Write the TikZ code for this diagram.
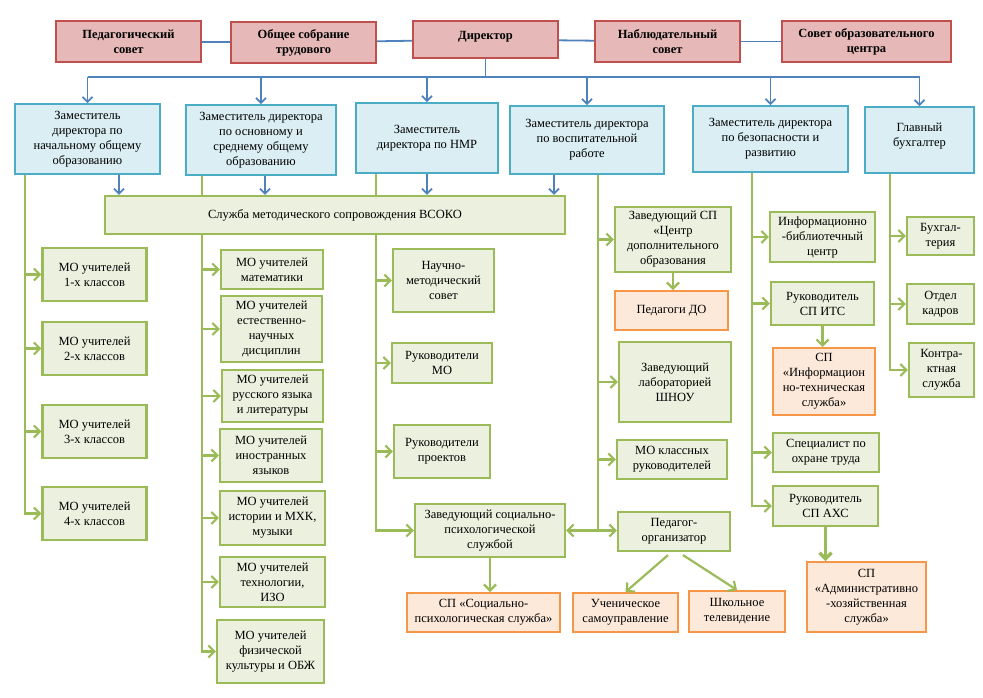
\documentclass[tikz,border=0pt]{standalone}
\usepackage{fontspec}
\setmainfont{Liberation Serif}
\usepackage{xcolor}
\usetikzlibrary{
    arrows.meta,
    backgrounds
}

\definecolor{councilfill}{HTML}{E6B9B8}
\definecolor{councildraw}{HTML}{C0504D}
\definecolor{deputyfill}{HTML}{DAEEF3}
\definecolor{deputydraw}{HTML}{4BACC6}
\definecolor{unitfill}{HTML}{EBF1DE}
\definecolor{unitdraw}{HTML}{9BBB59}
\definecolor{servfill}{HTML}{FDE9D9}
\definecolor{servdraw}{HTML}{F79646}
\definecolor{linkblue}{HTML}{4F81BD}

\begin{document}
\begin{tikzpicture}[
    x=1pt, y=-1pt,
    font=\fontsize{12.5}{15}\selectfont,
    box/.style={
        rectangle,
        align=center,
        inner sep=2pt,
        line width=2pt
    },
    council/.style={
        box,
        draw=councildraw,
        fill=councilfill,
        font=\fontsize{12.5}{15}\selectfont\bfseries
    },
    deputy/.style={
        box,
        draw=deputydraw,
        fill=deputyfill,
        line width=1.8pt
    },
    unit/.style={
        box,
        draw=unitdraw,
        fill=unitfill,
        line width=2.2pt
    },
    serv/.style={
        box,
        draw=servdraw,
        fill=servfill
    },
    sz/.style 2 args={
        minimum width=#1pt,
        minimum height=#2pt
    },
    blueline/.style={
        draw=linkblue,
        line width=1.8pt
    },
    bluearrow/.style={
        blueline,
        -{Straight Barb[length=5pt,width=10pt]}
    },
    greenline/.style={
        draw=unitdraw,
        line width=2.2pt
    },
    greenarrow/.style={
        greenline,
        -{Straight Barb[length=6pt,width=12pt]}
    },
    greenboth/.style={
        greenline,
        {Straight Barb[length=6pt,width=12pt]}-{Straight Barb[length=6pt,width=12pt]}
    }
]
\useasboundingbox (0,0) rectangle (983,697);

% =========================================================
% Governing bodies
% =========================================================
\node[council, sz={145}{41}] (pedsovet) at (128.5,41.5) {Педагогический\\совет};
\node[council, sz={145}{41}] (assembly) at (303.5,42.5) {Общее собрание\\трудового};
\node[council, sz={145}{37}, text depth=8pt] (director) at (485.5,39.5) {Директор};
\node[council, sz={145}{41}] (supervisory) at (667.5,41.5) {Наблюдательный\\совет};
\node[council, sz={169}{41}] (centrecouncil) at (866.5,41.5) {Совет образовательного\\центра};

% =========================================================
% Deputies
% =========================================================
\node[deputy, sz={145}{70}] (depprimary) at (87.5,139) {Заместитель\\директора по\\начальному общему\\образованию};
\node[deputy, sz={150}{70}] (depsecondary) at (261,140) {Заместитель директора\\по основному и\\среднему общему\\образованию};
\node[deputy, sz={142}{70}] (depnmr) at (427,138) {Заместитель\\директора по НМР};
\node[deputy, sz={154}{68}] (depeduc) at (587,140) {Заместитель директора\\по воспитательной\\работе};
\node[deputy, sz={155}{66}] (depsafety) at (770.5,139) {Заместитель директора\\по безопасности и\\развитию};
\node[deputy, sz={109}{66}, text depth=10pt] (accountant) at (919.5,140) {Главный\\бухгалтер};

\node[unit, sz={460}{38}] (vsoko) at (335,215) {Служба методического сопровождения ВСОКО};

% =========================================================
% Primary school MO
% =========================================================
\node[unit, sz={104}{53}] (mo1) at (94.5,274.5) {МО учителей\\1-х классов};
\node[unit, sz={104}{53}] (mo2) at (94.5,348.5) {МО учителей\\2-х классов};
\node[unit, sz={104}{53}] (mo3) at (94.5,431.5) {МО учителей\\3-х классов};
\node[unit, sz={104}{53}] (mo4) at (94.5,513.5) {МО учителей\\4-х классов};

% =========================================================
% Subject MO
% =========================================================
\node[unit, sz={102}{39}] (momath) at (272,269.5) {МО учителей\\математики};
\node[unit, sz={101}{66}] (moscience) at (271.5,329) {МО учителей\\естественно-\\научных\\дисциплин};
\node[unit, sz={101}{52}] (morus) at (272.5,396) {МО учителей\\русского языка\\и литературы};
\node[unit, sz={102}{53}] (moforeign) at (271,455.5) {МО учителей\\иностранных\\языков};
\node[unit, sz={105}{54}] (mohistory) at (272.5,518) {МО учителей\\истории и МХК,\\музыки};
\node[unit, sz={105}{50}] (motech) at (272.5,582) {МО учителей\\технологии,\\ИЗО};
\node[unit, sz={107}{63}] (mosport) at (270.5,651.5) {МО учителей\\физической\\культуры и ОБЖ};

% =========================================================
% NMR units
% =========================================================
\node[unit, sz={101}{63}] (nmsovet) at (443.5,280.5) {Научно-\\методический\\совет};
\node[unit, sz={100}{40}] (heads) at (442,363) {Руководители\\МО};
\node[unit, sz={96}{53}] (projects) at (442,451.5) {Руководители\\проектов};
\node[unit, sz={150}{53}] (socpsy) at (490,530.5) {Заведующий социально-\\психологической\\службой};
\node[serv, sz={153}{39}] (socpsysp) at (483.5,612.5) {СП «Социально-\\психологическая служба»};

% =========================================================
% Upbringing units
% =========================================================
\node[unit, sz={116}{65}] (addcentre) at (673,239.5) {Заведующий СП\\«Центр\\дополнительного\\образования};
\node[serv, sz={113}{39}] (addteach) at (671.5,310.5) {Педагоги ДО};
\node[unit, sz={112}{80}] (shnou) at (675,382) {Заведующий\\лабораторией\\ШНОУ};
\node[unit, sz={110}{39}] (moclass) at (672,459.5) {МО классных\\руководителей};
\node[unit, sz={112}{39}] (organiser) at (674,531.5) {Педагог-\\организатор};
\node[serv, sz={105}{39}] (selfgov) at (625.5,612.5) {Ученическое\\самоуправление};
\node[serv, sz={96}{41}] (schooltv) at (737,611.5) {Школьное\\телевидение};

% =========================================================
% Safety and development units
% =========================================================
\node[unit, sz={105}{50}] (library) at (822.5,237) {Информационно\\-библиотечный\\центр};
\node[unit, sz={103}{43}] (itshead) at (822.5,303.5) {Руководитель\\СП ИТС};
\node[serv, sz={102}{67}] (itssp) at (824,381.5) {СП\\«Информацион\\но-техническая\\служба»};
\node[unit, sz={106}{39}] (labour) at (826,452.5) {Специалист по\\охране труда};
\node[unit, sz={105}{40}] (ahshead) at (825.5,506) {Руководитель\\СП АХС};
\node[serv, sz={119}{70}] (ahssp) at (866.5,597) {СП\\«Административно\\-хозяйственная\\служба»};

% =========================================================
% Accounting units
% =========================================================
\node[unit, sz={67}{38}] (bookkeeping) at (940.5,236) {Бухгал-\\терия};
\node[unit, sz={67}{40}] (staff) at (940.5,304) {Отдел\\кадров};
\node[unit, sz={65}{54}] (contracts) at (941.5,370) {Контра-\\ктная\\служба};

% =========================================================
% Blue links
% =========================================================
\coordinate (bus) at (486,77);
\draw[blueline] (pedsovet) -- (assembly);
\draw[blueline] (assembly) -- (director);
\draw[blueline] (director) -- (supervisory);
\draw[blueline] (supervisory) -- (centrecouncil);
\draw[blueline] (director.south) -- (director.south |- bus);
\draw[blueline] (depprimary.north |- bus) -- (accountant.north |- bus);
\foreach \n in {depprimary,depsecondary,depnmr,depeduc,depsafety,accountant}
    \draw[bluearrow] (\n.north |- bus) -- (\n.north);

\draw[bluearrow] ([xshift=31.5pt]depprimary.south) -- ([xshift=31.5pt]depprimary.south |- vsoko.north);
\draw[bluearrow] ([xshift=4pt]depsecondary.south) -- ([xshift=4pt]depsecondary.south |- vsoko.north);
\draw[bluearrow] (depnmr.south) -- (depnmr.south |- vsoko.north);
\draw[bluearrow] ([xshift=-33pt]depeduc.south) -- ([xshift=-33pt]depeduc.south |- vsoko.north);

% =========================================================
% Green links
% =========================================================
\coordinate (trunkA) at (25,174);
\coordinate (trunkB) at (202,175);
\coordinate (trunkC) at (376,173);
\coordinate (trunkD) at (598,174);
\coordinate (trunkE) at (752,172);
\coordinate (trunkF) at (890,173);

\begin{scope}[on background layer]
\draw[greenarrow] (trunkA) |- (mo4.west);
\draw[greenarrow] (trunkB) |- (mosport.west);
\draw[greenarrow] (trunkC) |- (socpsy.west);
\draw[greenline] (trunkD) -- (trunkD |- organiser.west);
\draw[greenarrow] (trunkE) |- (ahshead.west);
\draw[greenarrow] (trunkF) |- (contracts.west);
\end{scope}

\foreach \n in {mo1,mo2,mo3}
    \draw[greenarrow] (trunkA |- \n.west) -- (\n.west);
\foreach \n in {momath,moscience,morus,moforeign,mohistory,motech}
    \draw[greenarrow] (trunkB |- \n.west) -- (\n.west);
\foreach \n in {nmsovet,heads,projects}
    \draw[greenarrow] (trunkC |- \n.west) -- (\n.west);
\foreach \n in {addcentre,shnou,moclass}
    \draw[greenarrow] (trunkD |- \n.west) -- (\n.west);
\foreach \n in {library,itshead,labour}
    \draw[greenarrow] (trunkE |- \n.west) -- (\n.west);
\foreach \n in {bookkeeping,staff}
    \draw[greenarrow] (trunkF |- \n.west) -- (\n.west);

\draw[greenboth] (socpsy.east) -- (socpsy.east -| organiser.west);
\draw[greenarrow] (socpsy.south) -- (socpsy.south |- socpsysp.north);
\draw[greenarrow] (addcentre.south) -- (addcentre.south |- addteach.north);
\draw[greenarrow] ([shift={(-6,3)}]organiser.south) -- (selfgov.north);
\draw[greenarrow] ([shift={(9,3)}]organiser.south) -- (schooltv.north);
\draw[greenarrow] (itshead.south) -- (itshead.south |- itssp.north);
\draw[greenarrow, line width=3.2pt] (ahshead.south) -- (ahshead.south |- ahssp.north);

\end{tikzpicture}
\end{document}
